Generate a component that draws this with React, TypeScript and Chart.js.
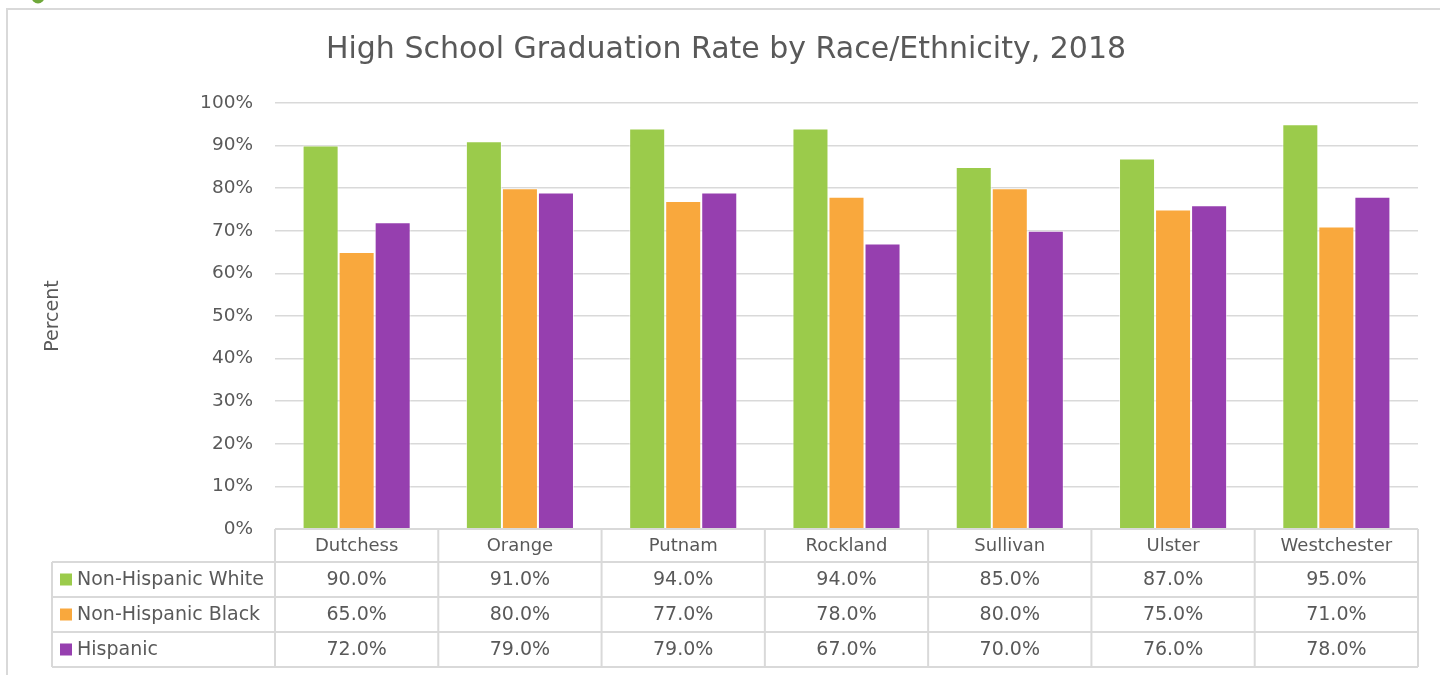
import React, { useEffect, useRef } from 'react';
import { Chart, registerables } from 'chart.js';

Chart.register(...registerables);

const categories = ['Dutchess', 'Orange', 'Putnam', 'Rockland', 'Sullivan', 'Ulster', 'Westchester'];
const seriesNames = ['Non-Hispanic White', 'Non-Hispanic Black', 'Hispanic'];
const whiteValues = [90, 91, 94, 94, 85, 87, 95];
const blackValues = [65, 80, 77, 78, 80, 75, 71];
const hispanicValues = [72, 79, 79, 67, 70, 76, 78];
const seriesColors = ['#9BCB4B', '#F9A83D', '#963FAF'];
const titleText = 'High School Graduation Rate by Race/Ethnicity, 2018';
const yAxisTitle = 'Percent';

const FONT = "'DejaVu Sans', sans-serif";
const TEXT = '#595959';
const LINE = '#D9D9D9';

const tablePlugin = {
  id: 'dataTable',
  beforeDraw(chart: any) {
    const ctx = chart.ctx;
    ctx.save();
    ctx.fillStyle = '#6FA83A';
    ctx.beginPath();
    ctx.arc(38, -3, 6.5, 0, Math.PI * 2);
    ctx.fill();
    ctx.strokeStyle = LINE;
    ctx.lineWidth = 2;
    ctx.beginPath();
    ctx.moveTo(7, 675);
    ctx.lineTo(7, 9);
    ctx.lineTo(1440, 9);
    ctx.stroke();
    ctx.restore();
  },
  afterDraw(chart: any) {
    const ctx = chart.ctx;
    const area = chart.chartArea;
    const x = chart.scales.x;
    const n = categories.length;
    const colW = (area.right - area.left) / n;
    const headTop = area.bottom;
    const headH = 33;
    const rowH = 35;
    const labelLeft = 52;
    const rowsTop = headTop + headH;
    const tableBottom = rowsTop + rowH * 3;
    const values = [whiteValues, blackValues, hispanicValues];

    ctx.save();
    ctx.strokeStyle = LINE;
    ctx.lineWidth = 2;
    ctx.beginPath();
    ctx.moveTo(area.left, headTop);
    ctx.lineTo(area.right, headTop);
    for (let r = 0; r <= 3; r++) {
      const y = rowsTop + r * rowH;
      ctx.moveTo(labelLeft, y);
      ctx.lineTo(area.right, y);
    }
    ctx.moveTo(labelLeft, rowsTop);
    ctx.lineTo(labelLeft, tableBottom);
    for (let c = 0; c <= n; c++) {
      const xx = area.left + c * colW;
      ctx.moveTo(xx, headTop);
      ctx.lineTo(xx, tableBottom);
    }
    ctx.stroke();

    ctx.fillStyle = TEXT;
    ctx.font = `18px ${FONT}`;
    ctx.textAlign = 'center';
    ctx.textBaseline = 'middle';
    categories.forEach((cat, i) => {
      ctx.fillText(cat, x.getPixelForValue(i), headTop + headH / 2 + 1);
    });
    ctx.font = `19px ${FONT}`;
    values.forEach((vals, r) => {
      const cy = rowsTop + r * rowH + rowH / 2 + 1;
      vals.forEach((v, i) => {
        ctx.fillText(v.toFixed(1) + '%', x.getPixelForValue(i), cy);
      });
    });
    ctx.textAlign = 'left';
    seriesNames.forEach((name, r) => {
      const cy = rowsTop + r * rowH + rowH / 2;
      ctx.fillStyle = seriesColors[r];
      ctx.fillRect(60, cy - 6, 12, 12);
      ctx.fillStyle = TEXT;
      ctx.fillText(name, 77, cy + 1);
    });
    ctx.restore();
  },
};

export default function App() {
  const ref = useRef<HTMLCanvasElement>(null);
  useEffect(() => {
    document.body.style.margin = '0';
    const barOpts = { borderColor: 'rgba(255,255,255,0.6)', borderWidth: 1, categoryPercentage: 0.662, barPercentage: 1 };
    const chart = new Chart(ref.current as HTMLCanvasElement, {
      type: 'bar',
      data: {
        labels: categories,
        datasets: [
          { label: seriesNames[0], data: whiteValues, backgroundColor: seriesColors[0], ...barOpts },
          { label: seriesNames[1], data: blackValues, backgroundColor: seriesColors[1], ...barOpts },
          { label: seriesNames[2], data: hispanicValues, backgroundColor: seriesColors[2], ...barOpts },
        ],
      },
      options: {
        responsive: false,
        animation: false,
        layout: { padding: { left: 12, right: 0, top: 0, bottom: 146 } },
        plugins: {
          legend: { display: false },
          tooltip: { enabled: false },
          title: {
            display: true,
            text: titleText,
            color: TEXT,
            font: { family: FONT, size: 30, weight: 'normal' },
            padding: { top: 32, bottom: 35 },
          },
        },
        scales: {
          x: { display: false },
          y: {
            min: 0,
            max: 100,
            ticks: {
              stepSize: 10,
              padding: 22,
              color: TEXT,
              font: { family: FONT, size: 18.5 },
              callback: (v: any) => v + '%',
            },
            grid: { color: LINE, lineWidth: 1.6, drawTicks: false },
            border: { display: false },
            title: {
              display: true,
              text: yAxisTitle,
              color: TEXT,
              font: { family: FONT, size: 19 },
              padding: { top: 30, bottom: 0 },
            },
            afterFit: (scale: any) => {
              scale.width = 263;
            },
          },
          yRightSpace: {
            type: 'linear',
            position: 'right',
            display: true,
            grid: { display: false, drawOnChartArea: false },
            ticks: { display: false },
            border: { display: false },
            afterFit: (scale: any) => {
              scale.width = 22;
            },
          },
        },
      },
      plugins: [tablePlugin],
    });
    return () => chart.destroy();
  }, []);
  return (
    <div style={{ position: 'absolute', left: 0, top: 0, width: 1440, height: 675 }}>
      <canvas ref={ref} width={1440} height={675} />
    </div>
  );
}
